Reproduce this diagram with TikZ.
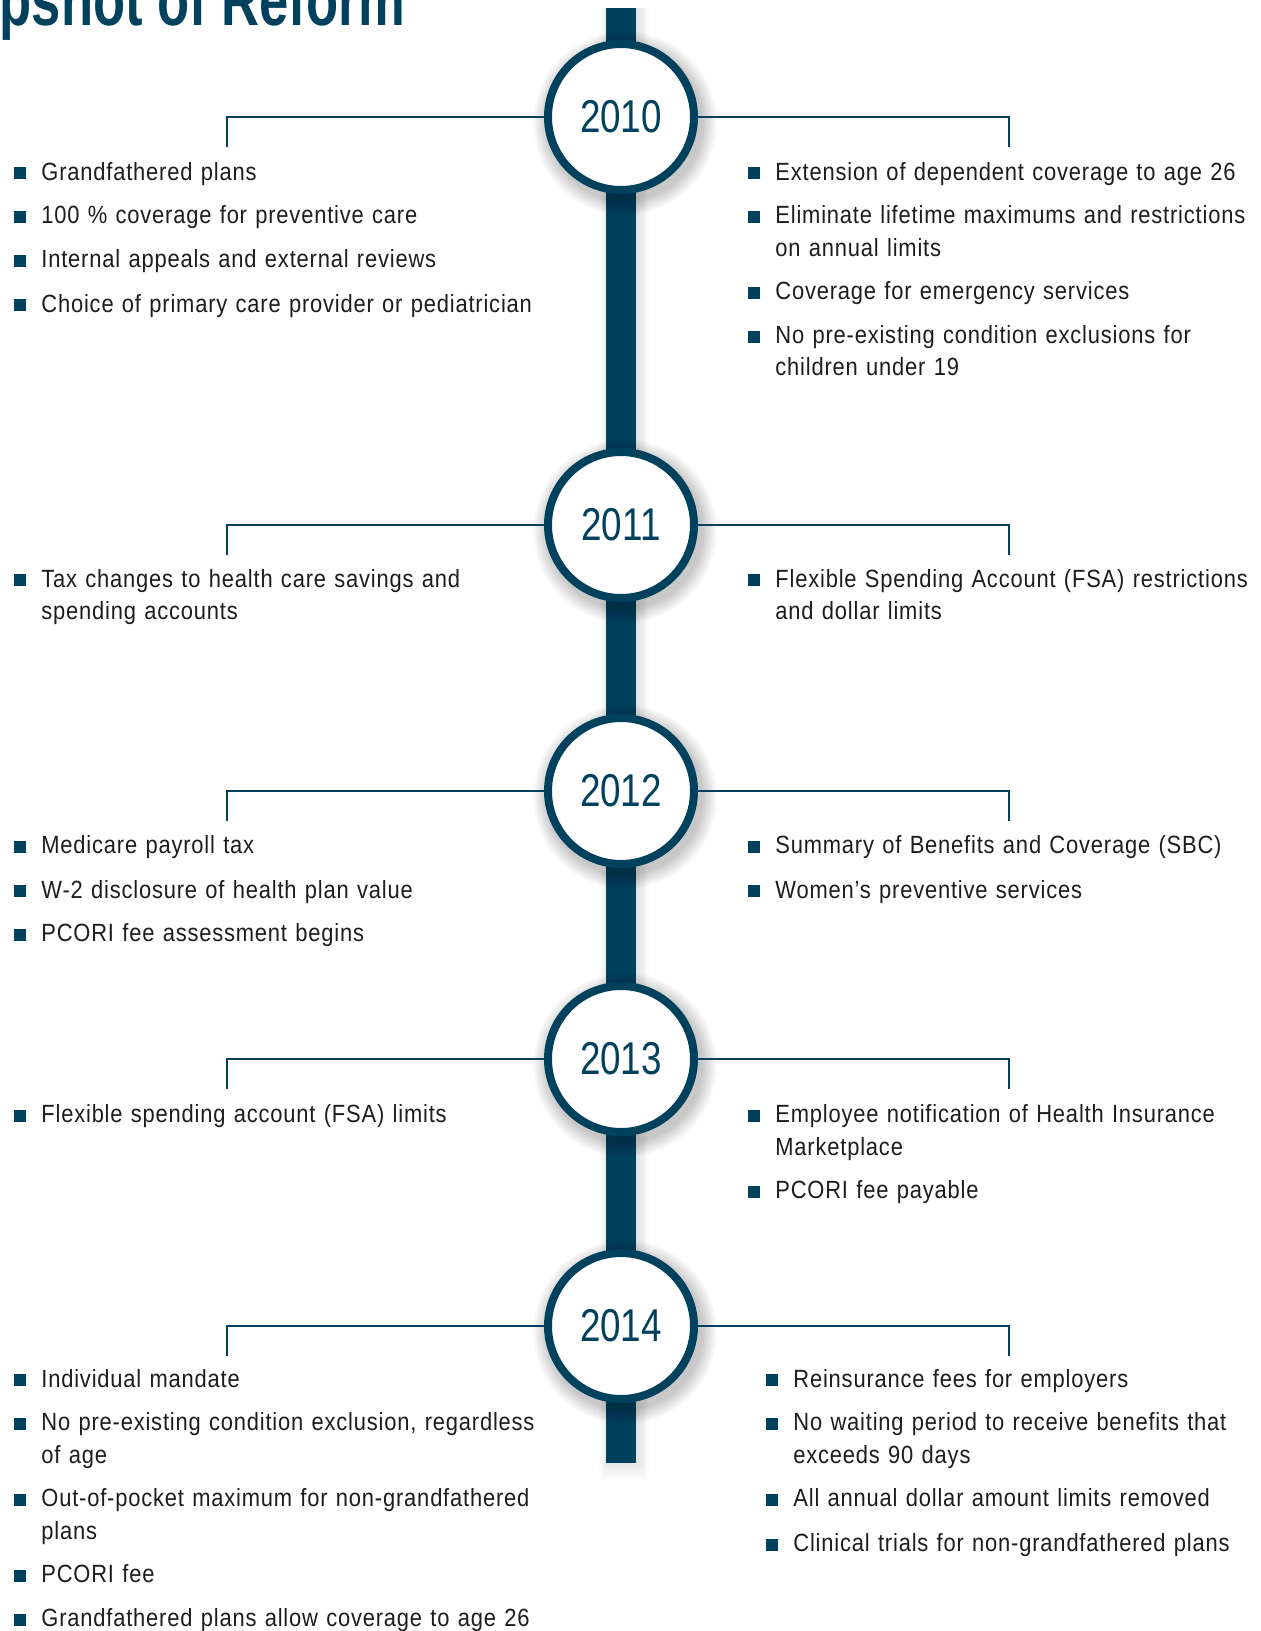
\documentclass[tikz,border=0pt]{standalone}
\usepackage{fontspec}
\setmainfont{Liberation Sans}[FakeStretch=0.88, LetterSpace=3.3]
\newfontfamily\titlefont{Liberation Sans}[FakeStretch=0.73]
\newfontfamily\yearfont{Liberation Sans}[FakeStretch=0.8]
\definecolor{reftl}{RGB}{0,65,94}
\definecolor{txt}{RGB}{30,28,30}
\newcommand\bul{\leavevmode\llap{\textcolor{reftl}{\rule[0.4pt]{6pt}{6pt}}\hspace{7.8pt}}}
\newcommand\cshadow[2]{\foreach \r in {0,...,10}{\fill[black,opacity=0.02] (#1+4,#2+6) circle[radius={(46-0.7*\r)*1pt}];}}
\tikzset{
  conn/.style={draw=reftl, line width=1pt},
  yearc/.style={circle, draw=reftl, line width=4pt, fill=white, minimum size=73pt, inner sep=0pt, text=reftl, font=\yearfont\fontsize{23}{26}\selectfont},
  itm/.style={anchor=base west, text width=262pt, inner sep=0pt, align=left, text=txt, font=\fontsize{12.45}{16.15}\selectfont},
}
\begin{document}
\begin{tikzpicture}[x=0.5pt,y=-0.5pt]
\clip (0,0) rectangle (1260,1631);
\fill[white] (0,0) rectangle (1260,1631);
% title
\node[anchor=base east, text=reftl, inner sep=0pt, font=\titlefont\bfseries\fontsize{36}{40}\selectfont] (title) at (406,26) {Snapshot of Reform};
% bar with shadow
\foreach \r in {0,...,8}{\fill[black,opacity=0.012] (606-\r*1.2+3,8) rectangle (636+\r*1.2+3,1463+\r*2);}
\fill[reftl] (606,8) rectangle (636,1463);
% circle shadows
\cshadow{621}{117}
\cshadow{621}{525}
\cshadow{621}{791}
\cshadow{621}{1059}
\cshadow{621}{1326}
% circles
\node[yearc] (y2010) at (621,117) {2010};
\node[yearc] (y2011) at (621,525) {2011};
\node[yearc] (y2012) at (621,791) {2012};
\node[yearc] (y2013) at (621,1059) {2013};
\node[yearc] (y2014) at (621,1326) {2014};
% connector ends
\coordinate (l2010) at (227,147);  \coordinate (r2010) at (1009,147);
\coordinate (l2011) at (227,555);  \coordinate (r2011) at (1009,555);
\coordinate (l2012) at (227,821);  \coordinate (r2012) at (1009,821);
\coordinate (l2013) at (227,1089); \coordinate (r2013) at (1009,1089);
\coordinate (l2014) at (227,1356); \coordinate (r2014) at (1009,1356);
\foreach \y in {2010,2011,2012,2013,2014}{
  \draw[conn] (y\y.west) -| (l\y);
  \draw[conn] (y\y.east) -| (r\y);
}
% 2010
\node[itm] (a1) at (41,180.2) {\bul Grandfathered plans};
\node[itm] (a2) at (41,223.9) {\bul 100 \% coverage for preventive care};
\node[itm] (a3) at (41,267.6) {\bul Internal appeals and external reviews};
\node[itm] (a4) at (41,312.3) {\bul Choice of primary care provider or pediatrician};
\node[itm] (b1) at (775,180.2) {\bul Extension of dependent coverage to age 26};
\node[itm] (b2) at (775,223.9) {\bul Eliminate lifetime maximums and restrictions\\on annual limits};
\node[itm] (b3) at (775,299.8) {\bul Coverage for emergency services};
\node[itm] (b4) at (775,343.5) {\bul No pre-existing condition exclusions for\\children under 19};
% 2011
\node[itm] (c1) at (41,587) {\bul Tax changes to health care savings and\\spending accounts};
\node[itm] (d1) at (775,587) {\bul Flexible Spending Account (FSA) restrictions\\and dollar limits};
% 2012
\node[itm] (e1) at (41,853.4) {\bul Medicare payroll tax};
\node[itm] (e2) at (41,898.1) {\bul W-2 disclosure of health plan value};
\node[itm] (e3) at (41,941.8) {\bul PCORI fee assessment begins};
\node[itm] (f1) at (775,853.4) {\bul Summary of Benefits and Coverage (SBC)};
\node[itm] (f2) at (775,898.1) {\bul Women’s preventive services};
% 2013
\node[itm] (g1) at (41,1122.9) {\bul Flexible spending account (FSA) limits};
\node[itm] (h1) at (775,1122.9) {\bul Employee notification of Health Insurance\\Marketplace};
\node[itm] (h2) at (775,1198.8) {\bul PCORI fee payable};
% 2014
\node[itm] (i1) at (41,1387.2) {\bul Individual mandate};
\node[itm] (i2) at (41,1430.9) {\bul No pre-existing condition exclusion, regardless\\of age};
\node[itm] (i3) at (41,1506.8) {\bul Out-of-pocket maximum for non-grandfathered\\plans};
\node[itm] (i4) at (41,1582.8) {\bul PCORI fee};
\node[itm] (i5) at (41,1626.5) {\bul Grandfathered plans allow coverage to age 26};
\node[itm] (j1) at (793,1387.2) {\bul Reinsurance fees for employers};
\node[itm] (j2) at (793,1430.9) {\bul No waiting period to receive benefits that\\exceeds 90 days};
\node[itm] (j3) at (793,1506.8) {\bul All annual dollar amount limits removed};
\node[itm] (j4) at (793,1551.6) {\bul Clinical trials for non-grandfathered plans};
\end{tikzpicture}
\end{document}
